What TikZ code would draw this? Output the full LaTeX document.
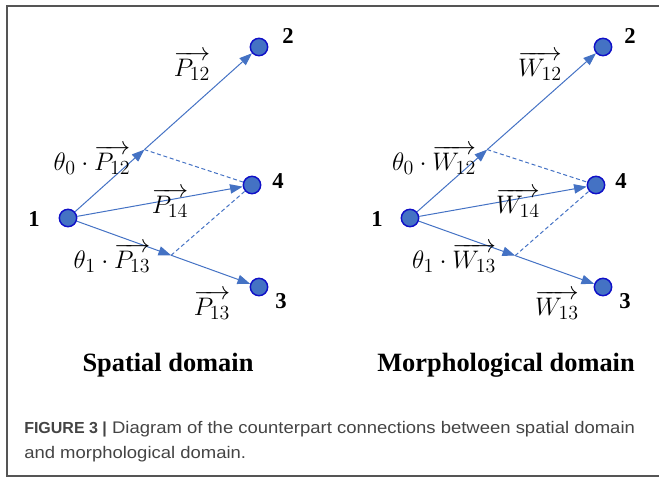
\RequirePackage{fix-cm}
\documentclass[tikz,border=0pt]{standalone}
\usepackage{fontspec}
\setmainfont{Liberation Serif}
\newfontfamily\capfont{Liberation Sans}
\newfontfamily\capfontwide[FakeStretch=1.1]{Liberation Sans}
\DeclareMathSizes{19}{19}{15}{11}
\usetikzlibrary{arrows.meta,calc}
\definecolor{lblue}{HTML}{4472C4}
\definecolor{dblue}{HTML}{1010C8}
\definecolor{framegray}{HTML}{555555}
\definecolor{capgray}{HTML}{444444}
\begin{document}
\begin{tikzpicture}[x=0.75pt,y=-0.75pt,
  vtx/.style={circle,fill=lblue,draw=dblue,line width=1.1pt,minimum size=13pt,inner sep=0pt},
  num/.style={font=\fontsize{17}{20}\selectfont\bfseries,inner sep=0pt},
  vlab/.style={font=\fontsize{19}{22}\selectfont,inner sep=0pt},
  arr/.style={draw=lblue,line width=0.75pt,-{Triangle[length=9.5pt,width=7pt]}},
  dsh/.style={draw=lblue,line width=0.75pt,dash pattern=on 3pt off 2pt},
  title/.style={font=\fontsize{19.8}{23}\selectfont\bfseries,inner sep=0pt},
  captext/.style={font=\capfontwide\fontsize{12.6}{15}\selectfont,text=capgray,inner sep=0pt,anchor=base west}]
\useasboundingbox (0,0) rectangle (659,478);
\draw[framegray,line width=0.9pt] (659,6) -- (7,6) -- (7,476) -- (659,476);

% ---- Spatial domain ----
\node[vtx] (a1) at (68,218) {};
\node[vtx] (a2) at (259,47) {};
\node[vtx] (a4) at (252,185) {};
\node[vtx] (a3) at (259,287) {};
\node[num] (la1) at (34,219) {1};
\node[num] (la2) at (288,36) {2};
\node[num] (la4) at (278,181) {4};
\node[num] (la3) at (281,301) {3};
\coordinate (am12) at ($(a1)!0.40!(a2)$);
\coordinate (am13) at ($(a1)!0.54!(a3)$);
\draw[arr] (a1) -- (am12);
\draw[arr] (am12) -- (a2);
\draw[arr] (a1) -- (am13);
\draw[arr] (am13) -- (a3);
\draw[arr] (a1) -- (a4);
\draw[dsh] (am12) -- (a4);
\draw[dsh] (am13) -- (a4);
\node[vlab] (pa12) at (192,66) {$\overrightarrow{P_{12}}$};
\node[vlab] (ta12) at (92,160) {$\theta_0\cdot\overrightarrow{P_{12}}$};
\node[vlab] (pa14) at (170,203) {$\overrightarrow{P_{14}}$};
\node[vlab] (ta13) at (112,258) {$\theta_1\cdot\overrightarrow{P_{13}}$};
\node[vlab] (pa13) at (212,305) {$\overrightarrow{P_{13}}$};
\node[title] (ta) at (168,365) {Spatial domain};

% ---- Morphological domain ----
\node[vtx] (b1) at (410,218) {};
\node[vtx] (b2) at (603,47) {};
\node[vtx] (b4) at (596,185) {};
\node[vtx] (b3) at (603,287) {};
\node[num] (lb1) at (377,219) {1};
\node[num] (lb2) at (630,36) {2};
\node[num] (lb4) at (621,181) {4};
\node[num] (lb3) at (625,301) {3};
\coordinate (bm12) at ($(b1)!0.40!(b2)$);
\coordinate (bm13) at ($(b1)!0.545!(b3)$);
\draw[arr] (b1) -- (bm12);
\draw[arr] (bm12) -- (b2);
\draw[arr] (b1) -- (bm13);
\draw[arr] (bm13) -- (b3);
\draw[arr] (b1) -- (b4);
\draw[dsh] (bm12) -- (b4);
\draw[dsh] (bm13) -- (b4);
\node[vlab] (wb12) at (540,66) {$\overrightarrow{W_{12}}$};
\node[vlab] (tb12) at (434,160) {$\theta_0\cdot\overrightarrow{W_{12}}$};
\node[vlab] (wb14) at (518,203) {$\overrightarrow{W_{14}}$};
\node[vlab] (tb13) at (454,258) {$\theta_1\cdot\overrightarrow{W_{13}}$};
\node[vlab] (wb13) at (557,305) {$\overrightarrow{W_{13}}$};
\node[title] (tb) at (506,365) {Morphological domain};

% ---- caption ----
\node[captext] (c1) at (24,433) {{\capfont\fontsize{12}{15}\selectfont\bfseries FIGURE 3 |} Diagram of the counterpart connections between spatial domain};
\node[captext] (c2) at (24,458) {and morphological domain.};
\end{tikzpicture}
\end{document}
